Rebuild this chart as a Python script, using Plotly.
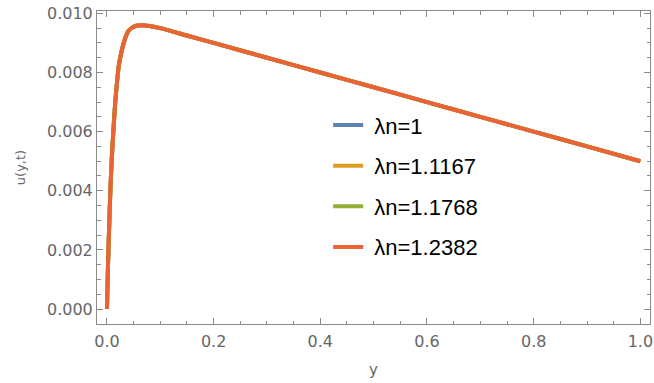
import plotly.graph_objects as go

# y positions and u(y,t) values (curves coincide)
y_vals = [0.000, 0.002, 0.004, 0.006, 0.008, 0.010, 0.013, 0.016, 0.019, 0.022,
          0.026, 0.030, 0.035, 0.040, 0.046, 0.055, 0.065, 0.080, 0.100, 0.150,
          0.200, 0.300, 0.400, 0.500, 0.600, 0.700, 0.800, 0.900, 1.000]
u_1 = [0.0000, 0.0015, 0.0027, 0.0038, 0.0047, 0.0054, 0.0063, 0.0071, 0.0077, 0.0082,
       0.0086, 0.0089, 0.0092, 0.0094, 0.0095, 0.00958, 0.00960, 0.00957, 0.00950, 0.00925,
       0.0090, 0.0085, 0.0080, 0.0075, 0.0070, 0.0065, 0.0060, 0.0055, 0.0050]
u_2 = list(u_1)
u_3 = list(u_1)
u_4 = list(u_1)

series_names = ["λn=1", "λn=1.1167", "λn=1.1768", "λn=1.2382"]
series_vals = [u_1, u_2, u_3, u_4]
colors = ["#5E81B5", "#E19C24", "#8FB032", "#EB6235"]

x_ticks = [0.0, 0.2, 0.4, 0.6, 0.8, 1.0]
x_tick_text = ["0.0", "0.2", "0.4", "0.6", "0.8", "1.0"]
y_ticks = [0.000, 0.002, 0.004, 0.006, 0.008, 0.010]
y_tick_text = ["0.000", "0.002", "0.004", "0.006", "0.008", "0.010"]

fig = go.Figure()
for i, (name, vals) in enumerate(zip(series_names, series_vals)):
    fig.add_trace(go.Scatter(
        x=y_vals, y=vals, mode="lines", name=" " + name,
        line=dict(color=colors[i], width=4, shape="spline", smoothing=0.6),
        legendgroup=f"g{i}",
    ))

axis_color = "#8a8a8a"
tick_font = dict(family="DejaVu Sans", size=16, color="#666666")

fig.update_layout(
    width=654, height=383,
    margin=dict(l=97, r=1, t=11, b=59),
    paper_bgcolor="white", plot_bgcolor="white",
    legend=dict(
        x=0.418, y=0.44, xanchor="left", yanchor="middle",
        bgcolor="rgba(0,0,0,0)",
        font=dict(family="Liberation Sans", size=22, color="#000000"),
        tracegroupgap=9,
        itemwidth=30,
    ),
    xaxis=dict(
        range=[-0.01865, 1.0181],
        tickvals=x_ticks, ticktext=x_tick_text,
        ticks="inside", ticklen=6, tickwidth=1, tickcolor=axis_color,
        showline=True, linecolor=axis_color, linewidth=1, mirror="ticks",
        showgrid=False, zeroline=False,
        tickfont=tick_font, ticklabeloverflow="allow", ticklabelstandoff=3,
        minor=dict(dtick=0.05, ticks="inside", ticklen=3.5, tickcolor=axis_color, showgrid=False),
        title=dict(text="y", font=dict(family="DejaVu Sans", size=15, color="#666666"), standoff=14),
    ),
    yaxis=dict(
        range=[-0.000506, 0.01008],
        tickvals=y_ticks, ticktext=y_tick_text,
        ticks="inside", ticklen=6, tickwidth=1, tickcolor=axis_color,
        showline=True, linecolor=axis_color, linewidth=1, mirror="ticks",
        showgrid=False, zeroline=False,
        tickfont=tick_font,
        minor=dict(dtick=0.0005, ticks="inside", ticklen=3.5, tickcolor=axis_color, showgrid=False),
        title=dict(text="u(y,t)", font=dict(family="DejaVu Sans", size=13, color="#666666"), standoff=18),
    ),
)

fig.write_html("out.html")
